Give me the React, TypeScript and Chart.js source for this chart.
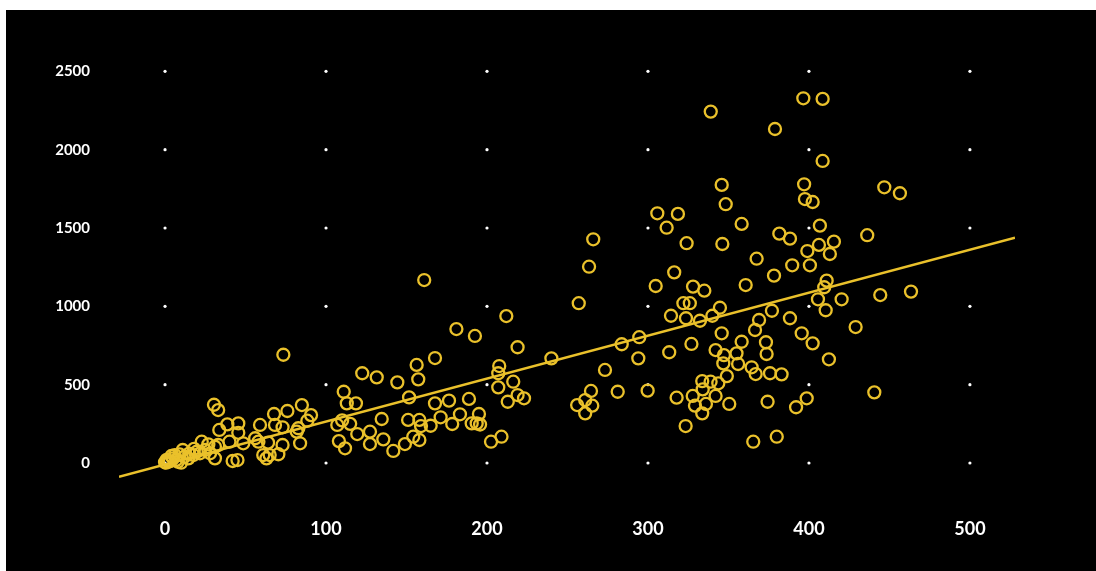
import React, { useEffect, useRef } from "react";
import { Chart, registerables } from "chart.js";

Chart.register(...registerables);

const xTicks = [0, 100, 200, 300, 400, 500];
const yTicks = [0, 500, 1000, 1500, 2000, 2500];

// scatter observations (x values)
const pointX = [
  0.6, 2, 0, 3, 5, 8, 6, 10, 11, 14.5, 17.6, 19.7, 21.7, 22.8, 24.8, 26.9, 28, 31, 33, 31,
  30.4, 33, 33.7, 38.7, 45.5, 45.5, 40, 48.6, 42, 45, 56, 58, 59, 64, 61, 63, 65, 67.7, 68.3, 70.4,
  73.5, 73, 73, 76, 85, 90.7, 88.4, 82.8, 81.8, 83.9, 1, 4, 7, 12, 15, 9, 18,
  107, 110, 115, 111, 112.9, 118.6, 122.5, 131.5, 144.3, 156.3, 157.3, 151.6, 134.6, 151, 108, 111.8,
  119.4, 127.3, 127.3, 135.6, 141.8, 149, 154.2, 158, 158, 159,
  161, 181, 192.5, 212, 219, 167.7, 207.6, 207, 207, 216.3, 167.7, 176.4, 188.8, 212.9, 219, 223,
  165, 171.2, 178.4, 183.2, 195, 190.5, 193.6, 195.7, 202.5, 209,
  240, 257, 263.4, 266, 273.3, 264.6, 256, 261, 265.4, 261, 281.2, 299.8, 283.7, 294.6, 294, 305.8,
  318.6, 311.6, 324, 316.3, 304.8, 328, 335, 322, 326, 314.3, 323.6, 332.3, 327, 313.2, 317.8, 323.4,
  327.8, 333.7, 338.9, 334, 329.2, 336, 333.7, 339,
  345.8, 348.3, 358.2, 346.2, 360.7, 344.7, 340, 345.8, 358.2, 342, 347.2, 346.8, 355, 356, 349, 343.7,
  342, 350.5, 396.5, 408.5, 378.9, 408.5, 397, 446.8, 456.5, 397.5, 402.3, 406.8, 381.6, 388.2,
  436.2, 399, 406.2, 415.5, 413, 367.5, 389.6, 400.6, 378.3, 411, 409.5, 405.6, 410.4, 420.3, 444.3,
  377, 388.2, 369, 366.5, 429, 373.3, 395.5, 402.3, 373.7, 412.4, 364.4, 366.9, 375.8, 383, 374.3,
  392, 398.6, 440.6, 365.4, 380, 463.4,
];

// scatter observations (y values)
const pointY = [
  2, 8, 5, 12, 30, 8, 51, 2, 83, 30, 51, 72, 62, 136, 83, 119, 62, 104, 115, 30,
  372, 338, 211, 247, 253, 193, 136, 126, 13, 19, 158, 136, 243, 130, 51, 30, 51, 313, 243, 56,
  691, 228, 115, 332, 370, 306, 270, 222, 200, 126, 20, 45, 20, 40, 60, 55, 90,
  243, 272, 250, 455, 381, 381, 573, 547, 515, 626, 534, 419, 281, 275, 140, 94,
  185, 200, 121, 151, 77, 121, 168, 147, 275, 236,
  1168, 855, 811, 938, 739, 670, 619, 573, 483, 519, 381, 398, 409, 391, 434, 413,
  238, 292, 249, 311, 313, 253, 253, 246, 136, 168,
  668, 1020, 1253, 1428, 594, 460, 370, 402, 366, 317, 455, 462, 758, 803, 668, 1594,
  1590, 1502, 1403, 1217, 1130, 1126, 1100, 1020, 1020, 940, 924, 908, 760, 707, 417, 236,
  428, 523, 519, 470, 366, 377, 317, 2243,
  1775, 1652, 1526, 1398, 1136, 991, 940, 828, 774, 721, 689, 636, 700, 632, 555, 509,
  428, 377, 2328, 2324, 2132, 1928, 1779, 1760, 1722, 1685, 1666, 1515, 1464, 1432,
  1454, 1353, 1392, 1413, 1334, 1304, 1262, 1262, 1196, 1164, 1122, 1045, 975, 1045, 1072,
  972, 924, 913, 849, 868, 771, 828, 764, 696, 662, 611, 568, 573, 566, 391,
  356, 413, 451, 136, 168, 1094,
];

// fitted trend line end points
const trendX = [-28.6, 528];
const trendY = [-88, 1438];

const YELLOW = "#EAC12B";

const dotGrid = {
  id: "dotGrid",
  beforeDatasetsDraw(chart: any) {
    const { ctx, scales } = chart;
    const xs = scales.x;
    const ys = scales.y;
    ctx.save();
    ctx.fillStyle = "#ffffff";
    for (const xv of xTicks) {
      for (const yv of yTicks) {
        ctx.beginPath();
        ctx.arc(xs.getPixelForValue(xv), ys.getPixelForValue(yv), 1.6, 0, Math.PI * 2);
        ctx.fill();
      }
    }
    ctx.restore();
  },
};

export default function App() {
  const ref = useRef<HTMLCanvasElement | null>(null);

  useEffect(() => {
    if (!ref.current) return;
    const points = pointX.map((x, i) => ({ x, y: pointY[i] }));
    const trend = trendX.map((x, i) => ({ x, y: trendY[i] }));
    const chart = new Chart(ref.current, {
      type: "scatter",
      data: {
        datasets: [
          {
            type: "line",
            data: trend,
            borderColor: YELLOW,
            borderWidth: 2.5,
            pointRadius: 0,
            fill: false,
          } as any,
          {
            data: points,
            pointStyle: "circle",
            pointRadius: 6,
            pointBorderWidth: 2.3,
            borderWidth: 2.3,
            borderColor: YELLOW,
            backgroundColor: "rgba(0,0,0,0)",
          } as any,
        ],
      },
      options: {
        responsive: false,
        animation: false,
        layout: { padding: { top: 30, right: 81, left: 0, bottom: 0 } },
        plugins: { legend: { display: false }, tooltip: { enabled: false } },
        scales: {
          x: {
            type: "linear",
            min: -28.6,
            max: 528,
            afterBuildTicks: (s: any) => {
              s.ticks = xTicks.map((v) => ({ value: v }));
            },
            afterFit: (s: any) => {
              s.height = 71;
              s.paddingLeft = 0;
              s.paddingRight = 0;
            },
            grid: { display: false, drawTicks: false },
            border: { display: false },
            ticks: {
              color: "#ffffff",
              padding: 18,
              font: { family: "Lato", size: 18, weight: "bold" },
              callback: (v: any) => String(v),
              maxRotation: 0,
              autoSkip: false,
            },
          },
          y: {
            type: "linear",
            min: -236,
            max: 2700,
            afterBuildTicks: (s: any) => {
              s.ticks = yTicks.map((v) => ({ value: v }));
            },
            afterFit: (s: any) => {
              s.width = 113;
              s.paddingTop = 0;
              s.paddingBottom = 0;
            },
            grid: { display: false, drawTicks: false },
            border: { display: false },
            ticks: {
              color: "#ffffff",
              padding: 29,
              font: { family: "Lato", size: 15, weight: "bold" },
              callback: (v: any) => String(v),
              autoSkip: false,
            },
          },
        },
      },
      plugins: [dotGrid],
    });
    return () => chart.destroy();
  }, []);

  return (
    <div
      style={{
        position: "fixed",
        left: 6,
        top: 10,
        width: 1090,
        height: 561,
        background: "#000000",
      }}
    >
      <canvas ref={ref} width={1090} height={561} style={{ display: "block" }} />
    </div>
  );
}
